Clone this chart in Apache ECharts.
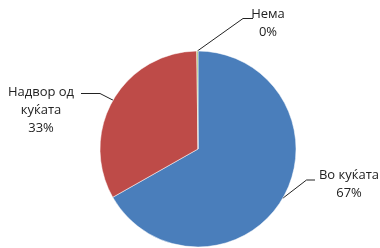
<!DOCTYPE html>
<html><head><meta charset="utf-8">
<script src="https://cdn.jsdelivr.net/npm/echarts@6/dist/echarts.min.js"></script>
<style>html,body{margin:0;padding:0;background:#fff}#c{width:380px;height:248px}</style>
</head><body><div id="c"></div>
<script>
const categories = ['Во куќата', 'Надвор од\nкуќата', 'Нема'];
const values = [66.8, 33.0, 0.2];
const colors = ['#4A7EBB', '#BE4B48', '#9BBB59'];
const labelSpots = [[349, 184], [41, 110], [268, 23]];
const leaderEnds = [[[306.5, 180], [315, 180]], [[100, 93.5], [81, 93.5]], [[243, 18.5], [253, 18.5]]];

const chart = echarts.init(document.getElementById('c'), null, {renderer: 'canvas'});
chart.setOption({
  animation: false,
  series: [{
    type: 'pie',
    center: [198, 149],
    radius: [0, 98],
    startAngle: 90,
    clockwise: true,
    avoidLabelOverlap: false,
    itemStyle: {borderColor: '#ffffff', borderWidth: 0.5},
    label: {
      show: true,
      position: 'outside',
      fontFamily: 'Open Sans',
      fontSize: 13,
      lineHeight: 18,
      color: '#222',
      align: 'center',
      formatter: p => p.name + '\n' + Math.round(p.percent) + '%'
    },
    labelLine: {show: true, length: 12, length2: 10, lineStyle: {color: '#222', width: 1}},
    labelLayout: p => {
      const i = p.dataIndex;
      const start = p.labelLinePoints ? p.labelLinePoints[0] : null;
      const o = {x: labelSpots[i][0], y: labelSpots[i][1], align: 'center', verticalAlign: 'middle'};
      if (start) o.labelLinePoints = [start, leaderEnds[i][0], leaderEnds[i][1]];
      return o;
    },
    data: categories.map((n, i) => ({name: n, value: values[i], itemStyle: {color: colors[i]}}))
  }]
});
</script></body></html>
